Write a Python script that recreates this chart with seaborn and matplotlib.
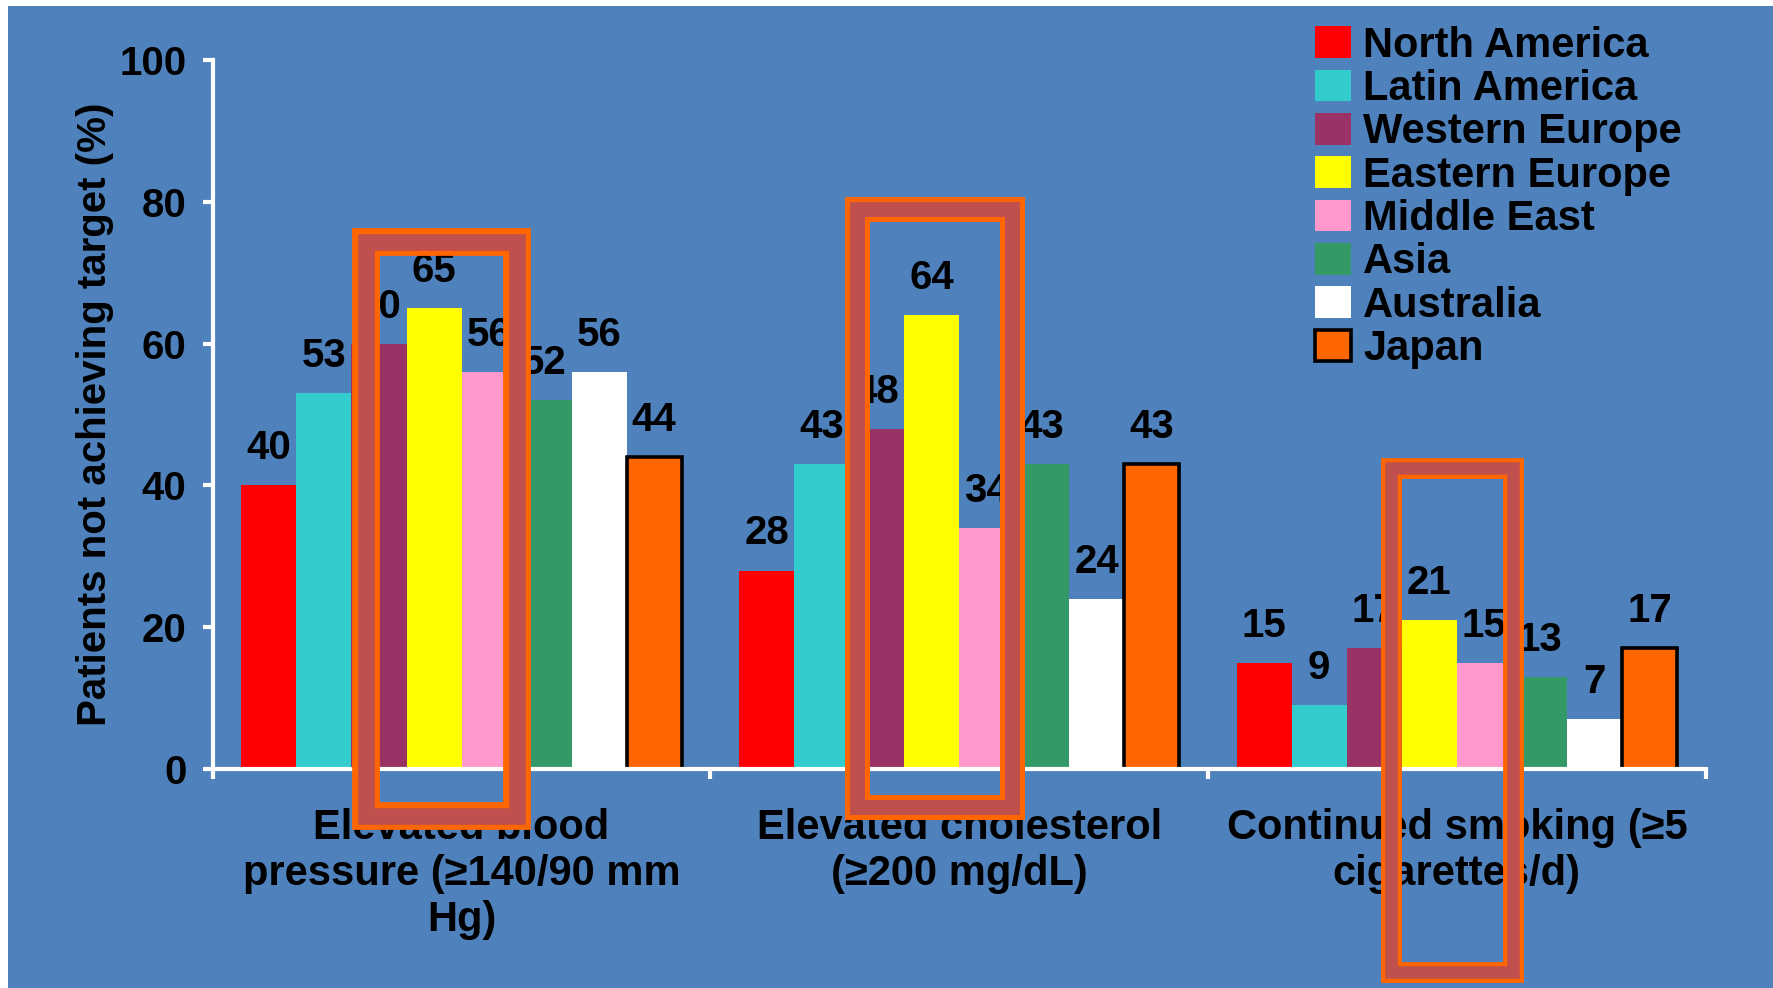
import pandas as pd
import matplotlib
matplotlib.use("Agg")
import matplotlib.pyplot as plt
import matplotlib.patheffects as pe
from matplotlib.patches import Rectangle
import seaborn as sns

# === Data ===
regions = ["North America", "Latin America", "Western Europe", "Eastern Europe",
           "Middle East", "Asia", "Australia", "Japan"]
categories = ["Elevated blood\npressure (≥140/90 mm\nHg)",
              "Elevated cholesterol\n(≥200 mg/dL)",
              "Continued smoking (≥5\ncigarettes/d)"]
north_america = [40, 28, 15]
latin_america = [53, 43, 9]
western_europe = [60, 48, 17]
eastern_europe = [65, 64, 21]
middle_east = [56, 34, 15]
asia = [52, 43, 13]
australia = [56, 24, 7]
japan = [44, 43, 17]

series = [north_america, latin_america, western_europe, eastern_europe,
          middle_east, asia, australia, japan]
colors = ['#FF0000', '#33CCCC', '#993366', '#FFFF00',
          '#FF99CC', '#339966', '#FFFFFF', '#FF6600']
bg = '#4F81BD'

rows = []
for reg, vals in zip(regions, series):
    for cat, v in zip(categories, vals):
        rows.append({'category': cat, 'region': reg, 'value': v})
df = pd.DataFrame(rows)

plt.rcParams['font.family'] = ['Liberation Sans', 'DejaVu Sans']

fig = plt.figure(figsize=(17.73, 9.88), dpi=100, facecolor='white')
fig.add_artist(Rectangle((8 / 1773, 0), 1, 1 - 6 / 988, transform=fig.transFigure,
                         facecolor=bg, edgecolor='none', zorder=-1))
ax = fig.add_axes([0.120, 0.2217, 0.842, 0.7173])
ax.set_facecolor('none')

sns.barplot(data=df, x='category', y='value', hue='region', hue_order=regions,
            order=categories, palette=colors, saturation=1, width=0.885,
            dodge=True, legend=False, ax=ax, linewidth=0)

# Japan bars get a black outline
for p in ax.containers[-1].patches:
    p.set_edgecolor('black')
    p.set_linewidth(2.6)

# value labels
for cont, vals in zip(ax.containers, series):
    ax.bar_label(cont, labels=[f"{v}" for v in vals], padding=13,
                 fontsize=29, fontweight='bold', color='black')

ax.set_ylim(0, 100)
ax.set_xlim(-0.5, 2.5)
ax.set_yticks(range(0, 101, 20))
ax.set_yticklabels([str(t) for t in range(0, 101, 20)], fontsize=29,
                   fontweight='bold')
ax.set_xticks(range(3))
ax.set_xticklabels(categories, fontsize=30, fontweight='bold', linespacing=1.2)
ax.set_xticks([-0.5, 0.5, 1.5, 2.5], minor=True)
ax.tick_params(axis='x', which='major', length=0, pad=28, colors='black')
ax.tick_params(axis='x', which='minor', length=7, width=3, color='white', direction='out')
ax.tick_params(axis='y', length=7, width=3, color='white', pad=12, labelcolor='black')

for s in ['top', 'right']:
    ax.spines[s].set_visible(False)
for s in ['left', 'bottom']:
    ax.spines[s].set_color('white')
    ax.spines[s].set_linewidth(3)

ax.set_xlabel('')
ax.set_ylabel('Patients not achieving target (%)', fontsize=29, fontweight='bold',
              labelpad=4)

# legend
leg = fig.legend(handles=ax.containers, labels=regions, loc='upper left',
                 bbox_to_anchor=(0.7417, 0.974), frameon=False,
                 prop={'weight': 'bold', 'size': 30}, handlelength=0.86,
                 handleheight=0.8, handletextpad=0.3, labelspacing=0.08,
                 borderpad=0, borderaxespad=0)

# highlight boxes: (group, left offset, right offset, bottom, top, thickness)
boxes = [(0, -0.192, 0.112, -6.6, 74.4, 20),
         (1, -0.206, 0.107, -5.4, 79.0, 18),
         (2, -0.133, 0.113, -28.6, 42.5, 15)]
for g, x0, x1, y0, y1, lw in boxes:
    r = Rectangle((g + x0, y0), x1 - x0, y1 - y0, fill=False, edgecolor='#C0504D',
                  linewidth=lw * 0.6, clip_on=False, zorder=10, joinstyle='miter',
                  path_effects=[pe.Stroke(linewidth=lw, foreground='#FF6600'), pe.Normal()])
    ax.add_patch(r)

fig.savefig('out.png', dpi=100, facecolor=fig.get_facecolor())
